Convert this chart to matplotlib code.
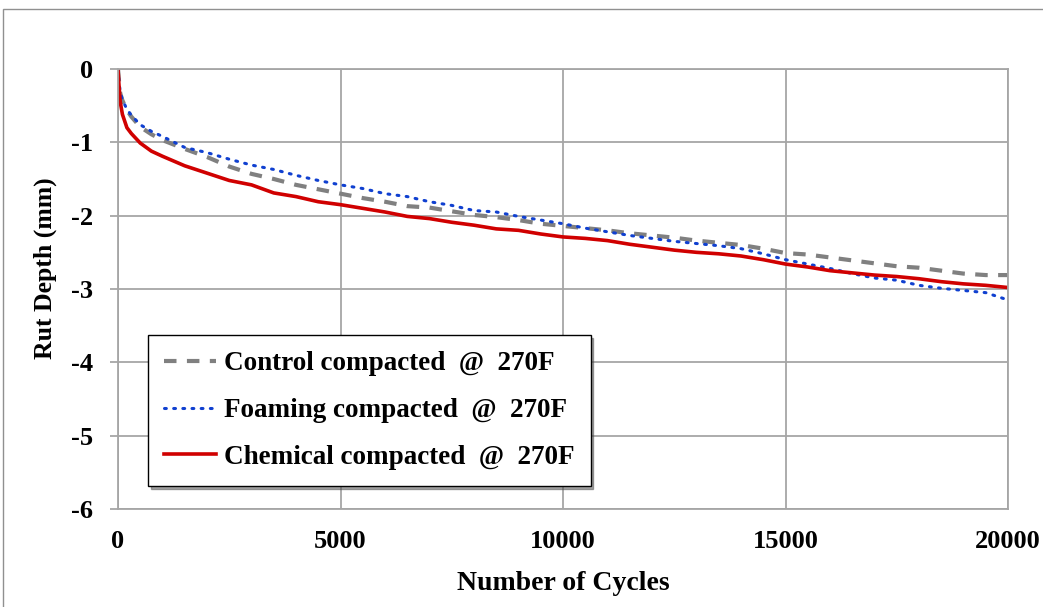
import matplotlib
matplotlib.use("Agg")
import matplotlib.pyplot as plt
from matplotlib.patches import Rectangle

plt.rcParams['font.family'] = ['Liberation Serif', 'DejaVu Serif']
plt.rcParams['font.weight'] = 'bold'
plt.rcParams['axes.unicode_minus'] = False

cycles = [0, 20, 50, 100, 200, 300, 500, 750, 1000, 1500, 2000, 2500, 3000, 3500,
          4000, 4500, 5000, 5500, 6000, 6500, 7000, 7500, 8000, 8500, 9000, 9500,
          10000, 10500, 11000, 11500, 12000, 12500, 13000, 13500, 14000, 14500,
          15000, 15500, 16000, 16500, 17000, 17500, 18000, 18500, 19000, 19500, 20000]

control = [0, -0.15, -0.33, -0.43, -0.56, -0.65, -0.79, -0.89, -0.97, -1.09, -1.20,
           -1.33, -1.43, -1.50, -1.58, -1.64, -1.70, -1.76, -1.81, -1.87, -1.89, -1.94,
           -1.99, -2.02, -2.06, -2.11, -2.14, -2.17, -2.20, -2.24, -2.27, -2.30, -2.34,
           -2.37, -2.40, -2.45, -2.51, -2.53, -2.57, -2.61, -2.65, -2.69, -2.71, -2.75,
           -2.79, -2.81, -2.81]

foaming = [0, -0.15, -0.32, -0.42, -0.55, -0.63, -0.76, -0.85, -0.92, -1.07, -1.14,
           -1.23, -1.31, -1.37, -1.45, -1.52, -1.58, -1.63, -1.70, -1.74, -1.81, -1.86,
           -1.93, -1.95, -2.01, -2.06, -2.11, -2.17, -2.22, -2.27, -2.31, -2.35, -2.38,
           -2.41, -2.45, -2.52, -2.60, -2.66, -2.72, -2.79, -2.85, -2.88, -2.95, -2.99,
           -3.02, -3.05, -3.15]

chemical = [0, -0.20, -0.45, -0.62, -0.80, -0.88, -1.01, -1.12, -1.19, -1.32, -1.42,
            -1.52, -1.58, -1.69, -1.74, -1.81, -1.85, -1.90, -1.95, -2.01, -2.04, -2.09,
            -2.13, -2.18, -2.20, -2.25, -2.29, -2.31, -2.34, -2.39, -2.43, -2.47, -2.50,
            -2.52, -2.55, -2.60, -2.66, -2.70, -2.75, -2.78, -2.81, -2.83, -2.86, -2.90,
            -2.93, -2.95, -2.98]

labels = ['Control compacted  @  270F', 'Foaming compacted  @  270F',
          'Chemical compacted  @  270F']
x_ticks = [0, 5000, 10000, 15000, 20000]
y_ticks = [0, -1, -2, -3, -4, -5, -6]

W, H = 1043, 607
fig = plt.figure(figsize=(W / 100, H / 100), dpi=100)
fig.patches.append(Rectangle((3 / W, -0.1), 1.2, 1 - 9 / H + 0.1, transform=fig.transFigure,
                             fill=False, edgecolor='#909090', linewidth=1.0))
ax = fig.add_axes([118 / W, 1 - 509 / H, 890 / W, 440 / H])

ax.plot(cycles, control, color='#808080', linestyle=(0, (3.0, 2.5)), linewidth=3.0,
        label=labels[0])
ax.plot(cycles, foaming, color='#1040d0', linestyle=(0, (0.6, 2.4)), linewidth=2.2,
        dash_capstyle='round', label=labels[1])
ax.plot(cycles, chemical, color='#d00000', linestyle='-', linewidth=2.6, label=labels[2])

ax.set_xlim(0, 20000)
ax.set_ylim(-6, 0)
ax.set_xticks(x_ticks)
ax.set_yticks(y_ticks)
ax.set_xticklabels([str(v) for v in x_ticks])
ax.set_yticklabels([str(v) for v in y_ticks])
ax.grid(True, color='#a6a6a6', linewidth=1.3)
ax.set_axisbelow(True)
for s in ax.spines.values():
    s.set_color('#a6a6a6')
    s.set_linewidth(1.3)
ax.tick_params(axis='y', length=6, width=1.3, color='#a6a6a6', pad=12, labelsize=19)
ax.tick_params(axis='x', length=0, pad=15, labelsize=19)

ax.set_xlabel('Number of Cycles', fontsize=20, fontweight='bold', labelpad=13)
ax.set_ylabel('Rut Depth (mm)', fontsize=18.5, fontweight='bold')
ax.yaxis.set_label_coords(-0.068, 0.548)

leg = ax.legend(loc='upper left', bbox_to_anchor=(0.0337, 0.395), frameon=True, shadow=True,
                fancybox=False, fontsize=19.5, handlelength=1.9, handletextpad=0.3,
                labelspacing=0.8, borderpad=0.6, borderaxespad=0.0)
leg.get_frame().set_edgecolor('black')
leg.get_frame().set_linewidth(1.0)
for t in leg.get_texts():
    t.set_fontweight('bold')

fig.savefig('out.png', dpi=100)
